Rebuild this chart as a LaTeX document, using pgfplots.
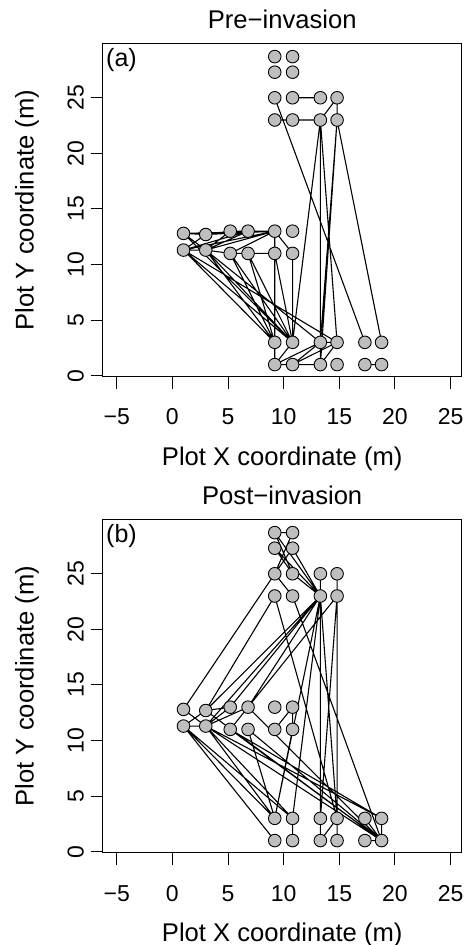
\documentclass[border=0pt]{standalone}
\usepackage{pgfplots}
\pgfplotsset{compat=1.18}
\usepackage{fontspec}
\setmainfont{Liberation Sans}
\definecolor{nodegray}{RGB}{190,190,190}
\pgfplotsset{
  netpanel/.style={
    scale only axis, width=359pt, height=333.4pt,
    xmin=-6.26, xmax=26.0, ymin=-0.09, ymax=29.9,
    clip=false,
    axis line style={line width=1.1pt},
    tick style={black, line width=1pt},
    tick align=outside, major tick length=12pt,
    xtick pos=bottom, ytick pos=left,
    xtick={-5,0,5,10,15,20,25},
    xticklabels={−5,0,5,10,15,20,25},
    ytick={0,5,10,15,20,25},
    yticklabels={0,5,10,15,20,25},
    every tick label/.append style={font=\fontsize{23}{27}\selectfont, inner sep=0pt},
    xticklabel style={anchor=base, yshift=-36.3pt},
    yticklabel style={xshift=-7pt, rotate=90, anchor=base},
    label style={font=\fontsize{25.6}{30}\selectfont, inner sep=0pt},
    xlabel={Plot X coordinate (m)},
    ylabel={Plot Y coordinate (m)},
    xlabel style={at={(axis description cs:0.5,-0.2657)}, anchor=base},
    ylabel style={at={(axis description cs:-0.1922,0.5)}, anchor=base},
    title style={at={(axis description cs:0.5,1.0249)}, anchor=base, font=\fontsize{25.6}{30}\selectfont, inner sep=0pt},
  },
  edges/.style={black, line width=1.1pt, unbounded coords=jump, mark=none},
  nodes/.style={only marks, mark=*, mark size=6.3pt, mark options={fill=nodegray, draw=black, line width=0.9pt}},
}
\begin{document}
\begin{tikzpicture}
\useasboundingbox (0,0) rectangle (465pt,945pt);
% ---------------- Panel (a)
\begin{axis}[netpanel, at={(102.7pt,568.3pt)}, anchor=south west, title={Pre−invasion}]
\addplot[edges] coordinates {
(10.8,25) (13.3,25) (nan,nan)
(9.2,23) (10.8,23) (nan,nan)
(10.8,23) (13.3,23) (nan,nan)
(14.8,25) (13.3,23) (nan,nan)
(14.8,25) (14.8,23) (nan,nan)
(9.2,25) (17.3,3) (nan,nan)
(14.8,23) (18.8,3) (nan,nan)
(13.3,23) (10.8,3) (nan,nan)
(13.3,23) (13.3,3) (nan,nan)
(13.3,23) (13.3,1) (nan,nan)
(13.3,23) (14.8,3) (nan,nan)
(14.8,23) (13.3,3) (nan,nan)
(14.8,23) (13.3,1) (nan,nan)
(1,12.8) (3,12.7) (nan,nan)
(1,12.8) (3,11.3) (nan,nan)
(1,11.3) (3,12.7) (nan,nan)
(1,11.3) (3,11.3) (nan,nan)
(3,12.7) (5.2,13) (nan,nan)
(3,12.7) (9.2,13) (nan,nan)
(1,12.8) (9.2,13) (nan,nan)
(1,11.3) (9.2,13) (nan,nan)
(3,11.3) (9.2,13) (nan,nan)
(3,11.3) (6.8,13) (nan,nan)
(5.2,13) (6.8,13) (nan,nan)
(6.8,13) (9.2,13) (nan,nan)
(5.2,11) (9.2,13) (nan,nan)
(3,11.3) (5.2,11) (nan,nan)
(5.2,11) (6.8,11) (nan,nan)
(6.8,11) (9.2,11) (nan,nan)
(9.2,13) (9.2,11) (nan,nan)
(9.2,13) (10.8,11) (nan,nan)
(1,11.3) (6.8,13) (nan,nan)
(5.2,13) (3,11.3) (nan,nan)
(1,11.3) (9.2,3) (nan,nan)
(1,11.3) (10.8,3) (nan,nan)
(1,12.8) (10.8,3) (nan,nan)
(3,11.3) (9.2,3) (nan,nan)
(3,11.3) (10.8,3) (nan,nan)
(3,11.3) (13.3,3) (nan,nan)
(1,11.3) (14.8,3) (nan,nan)
(5.2,11) (10.8,3) (nan,nan)
(5.2,11) (9.2,3) (nan,nan)
(6.8,11) (9.2,3) (nan,nan)
(6.8,11) (10.8,3) (nan,nan)
(9.2,13) (9.2,3) (nan,nan)
(9.2,11) (10.8,3) (nan,nan)
(10.8,11) (10.8,3) (nan,nan)
(9.2,3) (9.2,1) (nan,nan)
(10.8,3) (9.2,1) (nan,nan)
(9.2,1) (10.8,1) (nan,nan)
(10.8,1) (13.3,1) (nan,nan)
(9.2,1) (13.3,3) (nan,nan)
(10.8,1) (13.3,3) (nan,nan)
(10.8,1) (14.8,3) (nan,nan)
(13.3,3) (13.3,1) (nan,nan)
(13.3,3) (14.8,3) (nan,nan)
(14.8,3) (13.3,1) (nan,nan)
(17.3,1) (18.8,1)
};
\addplot[nodes] coordinates {
(9.2,28.7) (10.8,28.7) (9.2,27.3) (10.8,27.3)
(9.2,25) (10.8,25) (13.3,25) (14.8,25)
(9.2,23) (10.8,23) (13.3,23) (14.8,23)
(1,12.8) (3,12.7) (5.2,13) (6.8,13) (9.2,13) (10.8,13)
(1,11.3) (3,11.3) (5.2,11) (6.8,11) (9.2,11) (10.8,11)
(9.2,3) (10.8,3) (13.3,3) (14.8,3) (17.3,3) (18.8,3)
(9.2,1) (10.8,1) (13.3,1) (14.8,1) (17.3,1) (18.8,1)
};
\node[anchor=base west, inner sep=0pt, font=\fontsize{25}{30}\selectfont] at (axis description cs:0.0092,0.931) {(a)};
\end{axis}
% ---------------- Panel (b)
\begin{axis}[netpanel, at={(102.7pt,92.3pt)}, anchor=south west, title={Post−invasion}]
\addplot[edges] coordinates {
(9.2,28.7) (10.8,28.7) (nan,nan)
(9.2,28.7) (10.8,25) (nan,nan)
(10.8,28.7) (9.2,25) (nan,nan)
(9.2,27.3) (10.8,25) (nan,nan)
(10.8,27.3) (9.2,25) (nan,nan)
(9.2,28.7) (13.3,23) (nan,nan)
(9.2,27.3) (13.3,23) (nan,nan)
(10.8,27.3) (13.3,23) (nan,nan)
(10.8,25) (13.3,23) (nan,nan)
(9.2,25) (10.8,23) (nan,nan)
(13.3,25) (13.3,23) (nan,nan)
(14.8,25) (14.8,23) (nan,nan)
(9.2,25) (1,12.8) (nan,nan)
(9.2,23) (3,12.7) (nan,nan)
(13.3,23) (3,12.7) (nan,nan)
(13.3,23) (3,11.3) (nan,nan)
(13.3,23) (5.2,13) (nan,nan)
(13.3,23) (6.8,13) (nan,nan)
(14.8,23) (6.8,13) (nan,nan)
(9.2,23) (14.8,3) (nan,nan)
(10.8,23) (18.8,1) (nan,nan)
(13.3,23) (9.2,3) (nan,nan)
(13.3,23) (10.8,3) (nan,nan)
(13.3,23) (13.3,3) (nan,nan)
(13.3,23) (13.3,1) (nan,nan)
(13.3,23) (14.8,3) (nan,nan)
(14.8,23) (13.3,3) (nan,nan)
(14.8,23) (14.8,3) (nan,nan)
(14.8,23) (14.8,1) (nan,nan)
(1,12.8) (3,11.3) (nan,nan)
(1,11.3) (3,12.7) (nan,nan)
(1,11.3) (3,11.3) (nan,nan)
(3,12.7) (5.2,13) (nan,nan)
(3,11.3) (5.2,13) (nan,nan)
(3,11.3) (6.8,13) (nan,nan)
(6.8,13) (5.2,11) (nan,nan)
(10.8,13) (9.2,11) (nan,nan)
(10.8,13) (10.8,11) (nan,nan)
(1,11.3) (9.2,3) (nan,nan)
(1,11.3) (10.8,3) (nan,nan)
(1,11.3) (9.2,1) (nan,nan)
(3,11.3) (9.2,3) (nan,nan)
(3,11.3) (10.8,3) (nan,nan)
(3,11.3) (18.8,3) (nan,nan)
(3,11.3) (18.8,1) (nan,nan)
(3,12.7) (18.8,1) (nan,nan)
(5.2,11) (18.8,1) (nan,nan)
(5.2,11) (18.8,3) (nan,nan)
(6.8,11) (18.8,1) (nan,nan)
(6.8,13) (18.8,1) (nan,nan)
(6.8,11) (9.2,3) (nan,nan)
(10.8,11) (9.2,3) (nan,nan)
(10.8,3) (10.8,1) (nan,nan)
(13.3,3) (13.3,1) (nan,nan)
(14.8,3) (13.3,1) (nan,nan)
(14.8,3) (14.8,1) (nan,nan)
(17.3,3) (18.8,1) (nan,nan)
(18.8,3) (18.8,1) (nan,nan)
(17.3,1) (18.8,1)
};
\addplot[nodes] coordinates {
(9.2,28.7) (10.8,28.7) (9.2,27.3) (10.8,27.3)
(9.2,25) (10.8,25) (13.3,25) (14.8,25)
(9.2,23) (10.8,23) (13.3,23) (14.8,23)
(1,12.8) (3,12.7) (5.2,13) (6.8,13) (9.2,13) (10.8,13)
(1,11.3) (3,11.3) (5.2,11) (6.8,11) (9.2,11) (10.8,11)
(9.2,3) (10.8,3) (13.3,3) (14.8,3) (17.3,3) (18.8,3)
(9.2,1) (10.8,1) (13.3,1) (14.8,1) (17.3,1) (18.8,1)
};
\node[anchor=base west, inner sep=0pt, font=\fontsize{25}{30}\selectfont] at (axis description cs:0.0092,0.931) {(b)};
\end{axis}
\end{tikzpicture}
\end{document}
